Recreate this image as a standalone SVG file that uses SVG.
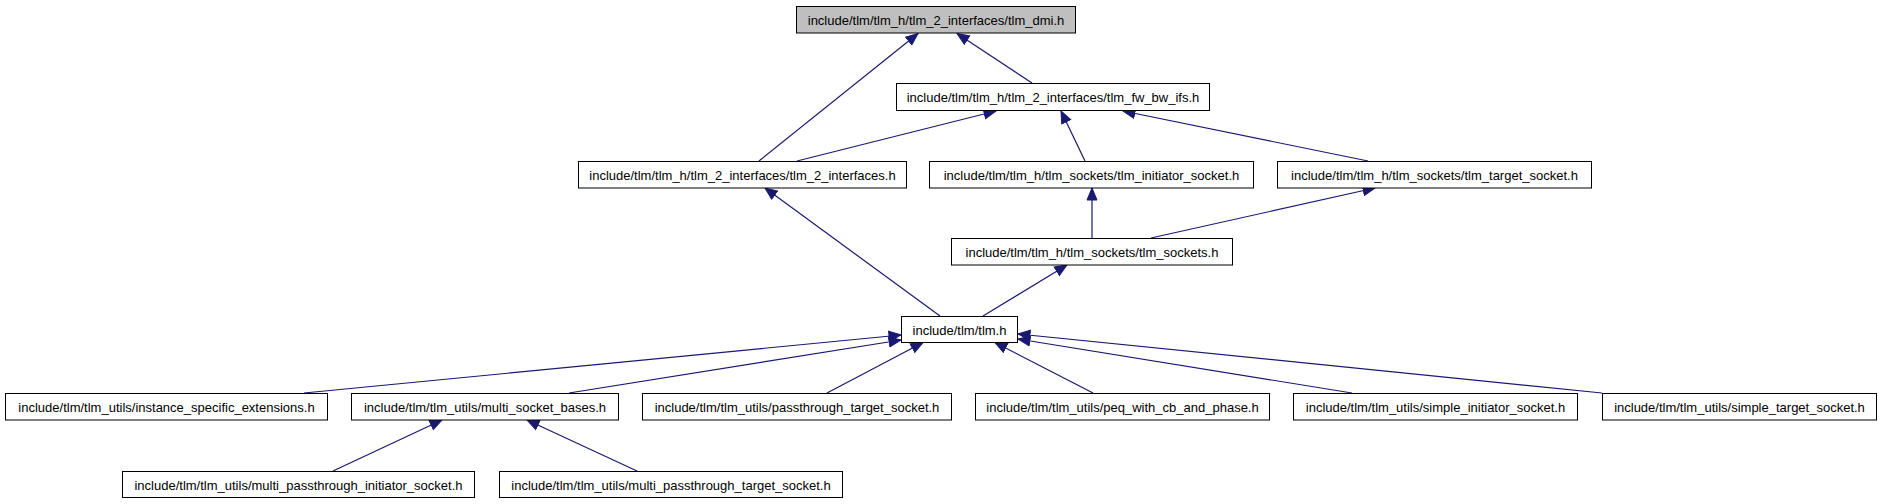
<svg xmlns="http://www.w3.org/2000/svg" width="1883" height="504" viewBox="0 0 1883 504">
<style>
.n rect{fill:#fff;stroke:#000;stroke-width:1}
.n.cur rect{fill:#bfbfbf}
.n text{font-family:"Liberation Sans",Arial,sans-serif;font-size:13px;fill:#000;text-anchor:middle}
.e line{stroke:#191970;stroke-width:1.2;fill:none;marker-end:url(#arr)}
</style>
<defs>
<marker id="arr" markerWidth="14" markerHeight="12" refX="12.5" refY="6" orient="auto" markerUnits="userSpaceOnUse">
<path d="M0.5,1 L12.5,6 L0.5,11 z" fill="#191970" stroke="#191970" stroke-width="1"/>
</marker>
</defs>
<rect width="1883" height="504" fill="#fff"/>
<g id="edges" class="e">
<line x1="1032" y1="83" x2="957" y2="33.5"/>
<line x1="759" y1="161" x2="918" y2="33.5"/>
<line x1="797" y1="161" x2="996" y2="111"/>
<line x1="1085" y1="161" x2="1061" y2="111"/>
<line x1="1368" y1="161" x2="1123" y2="111"/>
<line x1="1092" y1="238" x2="1092" y2="188"/>
<line x1="1151" y1="238" x2="1375" y2="188"/>
<line x1="940" y1="316" x2="765" y2="188"/>
<line x1="983" y1="316" x2="1067" y2="265"/>
<line x1="304" y1="393" x2="901" y2="335"/>
<line x1="569" y1="393" x2="901" y2="340"/>
<line x1="827" y1="393" x2="923" y2="342.5"/>
<line x1="1093" y1="393" x2="995" y2="342.5"/>
<line x1="1352" y1="393" x2="1018" y2="339"/>
<line x1="1602" y1="393" x2="1018" y2="334"/>
<line x1="333" y1="471" x2="442" y2="420"/>
<line x1="637" y1="471" x2="527" y2="420"/>
</g>
<g id="n_dmi" class="n cur"><rect x="796.5" y="6.5" width="279" height="26.5"/><text x="936" y="25">include/tlm/tlm_h/tlm_2_interfaces/tlm_dmi.h</text></g>
<g id="n_fwbw" class="n"><rect x="896.5" y="83.5" width="313" height="27"/><text x="1053" y="102">include/tlm/tlm_h/tlm_2_interfaces/tlm_fw_bw_ifs.h</text></g>
<g id="n_tlm2" class="n"><rect x="578.5" y="161.5" width="328" height="26.5"/><text x="742.5" y="180">include/tlm/tlm_h/tlm_2_interfaces/tlm_2_interfaces.h</text></g>
<g id="n_init" class="n"><rect x="929.5" y="161.5" width="324" height="26.5"/><text x="1091.5" y="180">include/tlm/tlm_h/tlm_sockets/tlm_initiator_socket.h</text></g>
<g id="n_target" class="n"><rect x="1277.5" y="161.5" width="314" height="26.5"/><text x="1434.5" y="180">include/tlm/tlm_h/tlm_sockets/tlm_target_socket.h</text></g>
<g id="n_sockets" class="n"><rect x="951.5" y="238.5" width="281" height="26.5"/><text x="1092" y="257">include/tlm/tlm_h/tlm_sockets/tlm_sockets.h</text></g>
<g id="n_tlm" class="n"><rect x="901.5" y="316.5" width="116" height="26"/><text x="959.5" y="334.5">include/tlm/tlm.h</text></g>
<g id="n_inst" class="n"><rect x="5.5" y="393.5" width="322" height="26.5"/><text x="166.5" y="412">include/tlm/tlm_utils/instance_specific_extensions.h</text></g>
<g id="n_msb" class="n"><rect x="351.5" y="393.5" width="267" height="26.5"/><text x="485" y="412">include/tlm/tlm_utils/multi_socket_bases.h</text></g>
<g id="n_pts" class="n"><rect x="642.5" y="393.5" width="309" height="26.5"/><text x="797" y="412">include/tlm/tlm_utils/passthrough_target_socket.h</text></g>
<g id="n_peq" class="n"><rect x="975.5" y="393.5" width="294" height="26.5"/><text x="1122.5" y="412">include/tlm/tlm_utils/peq_with_cb_and_phase.h</text></g>
<g id="n_sis" class="n"><rect x="1293.5" y="393.5" width="284" height="26.5"/><text x="1435.5" y="412">include/tlm/tlm_utils/simple_initiator_socket.h</text></g>
<g id="n_sts" class="n"><rect x="1602.5" y="393.5" width="274" height="26.5"/><text x="1739.5" y="412">include/tlm/tlm_utils/simple_target_socket.h</text></g>
<g id="n_mpis" class="n"><rect x="122.5" y="471.5" width="352" height="26"/><text x="298.5" y="489.5">include/tlm/tlm_utils/multi_passthrough_initiator_socket.h</text></g>
<g id="n_mpts" class="n"><rect x="499.5" y="471.5" width="343" height="26"/><text x="671" y="489.5">include/tlm/tlm_utils/multi_passthrough_target_socket.h</text></g>
</svg>
